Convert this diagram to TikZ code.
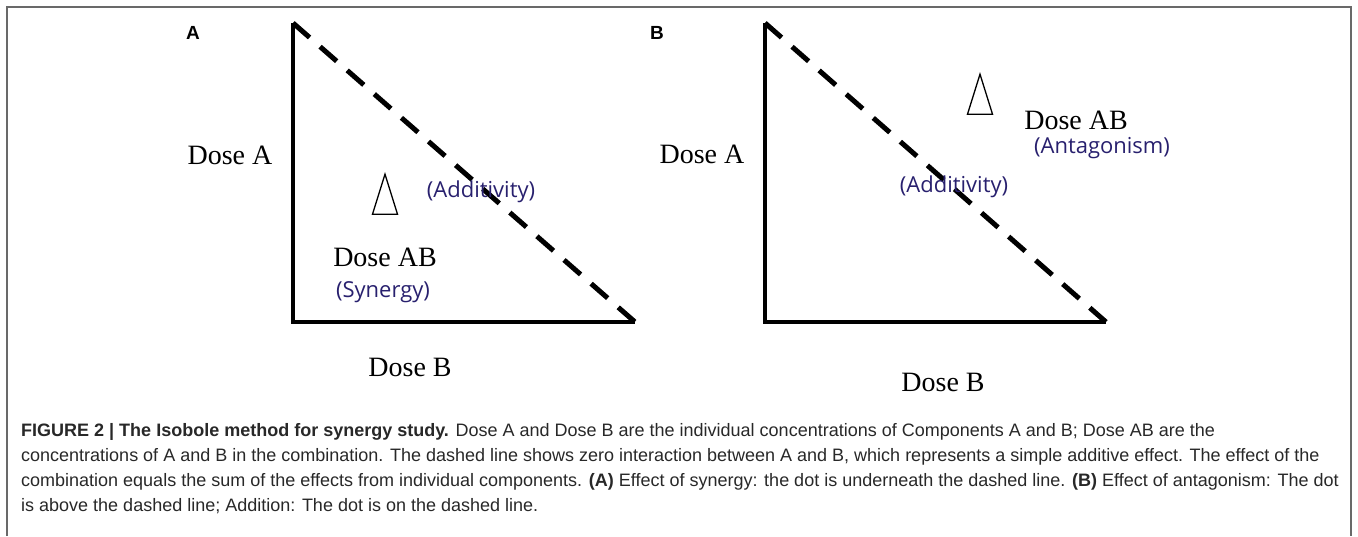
\documentclass[tikz,border=0pt]{standalone}
\usepackage{fontspec}
\setmainfont{Liberation Serif}
\newfontfamily\notefont{Open Sans}
\newfontfamily\capfont{Liberation Sans}
\newfontfamily\panelfont{Liberation Sans}
\usepackage{xcolor}
\usetikzlibrary{positioning,shapes.geometric}
\definecolor{notecol}{RGB}{40,32,110}
\definecolor{framecol}{RGB}{105,105,105}
\definecolor{captext}{RGB}{40,40,40}
\tikzset{
    axis/.style={draw, line width=4pt, line join=miter},
    isoline/.style={draw, line width=5pt, dash pattern=on 22pt off 14pt},
    dose/.style={inner sep=0pt, font={\fontsize{28}{30}\selectfont}},
    note/.style={inner sep=0pt, text=notecol, font={\notefont\fontsize{22}{24}\selectfont}},
    panel/.style={inner sep=0pt, font={\panelfont\bfseries\fontsize{19}{20}\selectfont}},
}

\begin{document}
\begin{tikzpicture}
[
    x=1pt, y=-1pt,
    frame/.style={draw=framecol, line width=1.5pt},
    marker/.style={isosceles triangle, isosceles triangle stretches,
        shape border rotate=90, draw, line width=1.3pt,
        minimum width=25pt, minimum height=40pt, inner sep=0pt},
    caption/.style={anchor=base west, inner sep=0pt, align=left, text=captext,
        font={\capfont\fontsize{18}{25}\selectfont}},
]
\useasboundingbox (0,0) rectangle (1358,536);
\draw[frame] (7,536) -- (7,7) -- (1351,7) -- (1351,536);
% panel A: synergy
\coordinate (topA) at (293,23);
\coordinate (originA) at (293,322);
\coordinate (endA) at (635,322);
\draw[axis] (topA) -- (originA) -- (endA);
\draw[isoline] (topA) -- (endA);
\node (panA) at (193,33) [panel] {A};
\node (doseA1) at (230,155) [dose] {Dose A};
\node (doseB1) at (410,367) [dose] {Dose B};
\node (mark1) at (385,205) [marker] {};
\node (addA) at (481,192) [note] {(Additivity)};
\node (doseAB1) at (385,257) [dose] {Dose AB};
\node (syn) at (383,292) [note] {(Synergy)};
% panel B: antagonism
\coordinate (topB) at (765,23);
\coordinate (originB) at (765,322);
\coordinate (endB) at (1106,322);
\draw[axis] (topB) -- (originB) -- (endB);
\draw[isoline] (topB) -- (endB);
\node (panB) at (657,33) [panel] {B};
\node (doseA2) at (702,154) [dose] {Dose A};
\node (doseB2) at (943,382) [dose] {Dose B};
\node (mark2) at (980,105) [marker] {};
\node (doseAB2) at (1076,120) [dose] {Dose AB};
\node (ant) at (1102,148) [note] {(Antagonism)};
\node (addB) at (954,187) [note] {(Additivity)};
% caption
\node (cap) at (21,511) [caption] {%
    \textbf{FIGURE 2 | The Isobole method for synergy study.} Dose A and Dose B are the individual concentrations of Components A and B; Dose AB are the\\
    concentrations of A and B in the combination. The dashed line shows zero interaction between A and B, which represents a simple additive effect. The effect of the\\
    combination equals the sum of the effects from individual components. \textbf{(A)} Effect of synergy: the dot is underneath the dashed line. \textbf{(B)} Effect of antagonism: The dot\\
    is above the dashed line; Addition: The dot is on the dashed line.};
\end{tikzpicture}
\end{document}
